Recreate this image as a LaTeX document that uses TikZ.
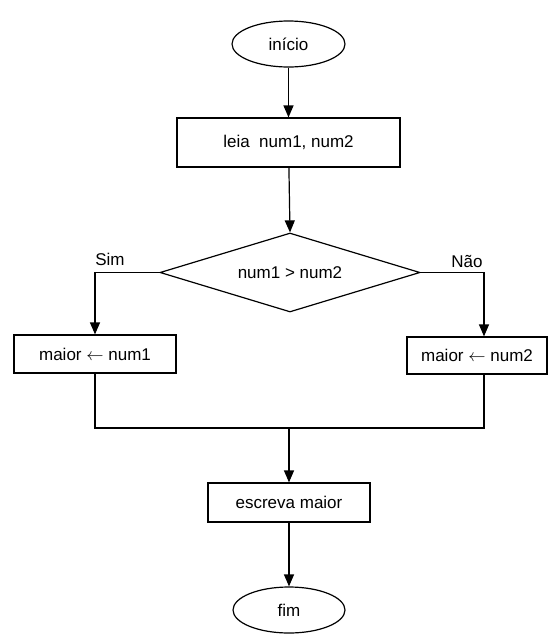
\documentclass[tikz,border=0pt]{standalone}
\usepackage{fontspec}
\setmainfont{Liberation Sans}
\usetikzlibrary{shapes.geometric,arrows.meta}
\begin{document}
\begin{tikzpicture}[x=1pt,y=-1pt,
  every node/.style={font=\fontsize{17}{20}\selectfont},
  line/.style={line width=1.2pt},
  arr/.style={line width=1.2pt,-{Triangle[length=12pt,width=10pt]}},
  term/.style={draw,line width=1.2pt,ellipse,inner sep=0pt,minimum width=113pt,minimum height=46pt},
  proc/.style={draw,line width=1.2pt,rectangle,inner sep=0pt},
  dec/.style={draw,line width=1.2pt,diamond,aspect=3.3,inner sep=0pt,minimum width=260pt,minimum height=79pt},
  lab/.style={inner sep=0pt}]
\useasboundingbox (0,0) rectangle (550,635);
\node[term] (ini) at (288.5,44) {início};
\node[proc,minimum width=223pt,minimum height=49pt] (leia) at (288.5,142.5) {leia\; num1, num2};
\node[dec] (d) at (290,272.5) {num1 > num2};
\node[proc,minimum width=162pt,minimum height=38pt] (l1) at (95,354) {maior $\leftarrow$ num1};
\node[proc,minimum width=140pt,minimum height=37pt] (r2) at (477,355.5) {maior $\leftarrow$ num2};
\node[proc,minimum width=162pt,minimum height=39pt] (w) at (289,502.5) {escreva maior};
\node[term,minimum width=112pt] (fim) at (289,610) {fim};
\node[lab] (sim) at (110,259) {Sim};
\node[lab] (nao) at (467,261) {Não};
\coordinate (cL) at (95,272.5);
\coordinate (cR) at (484,272.5);
\coordinate (m) at (289,428);
\draw[arr] (ini) -- (leia);
\draw[arr] (leia) -- (d.north);
\draw[arr] (d.west) -- (cL) -- (l1.north);
\draw[arr] (d.east) -- (cR) -- (cR |- r2.north);
\draw[line] (l1.south) -- (l1.south |- m) -- (cR |- m) -- (cR |- r2.south);
\draw[arr] (m) -- (w.north);
\draw[arr] (w) -- (fim);
\end{tikzpicture}
\end{document}
